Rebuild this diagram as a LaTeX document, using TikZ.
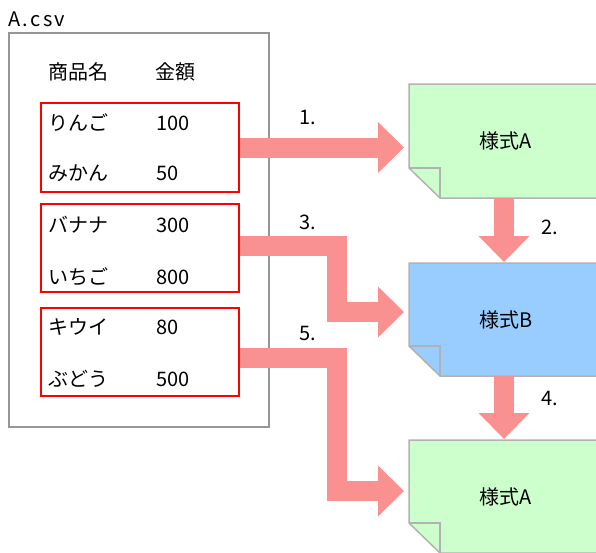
\documentclass[tikz,border=0pt]{standalone}
\usepackage{fontspec}
\setmainfont{Noto Sans CJK JP}
\usetikzlibrary{arrows.meta,backgrounds}
\definecolor{pinkarrow}{RGB}{250,145,145}
\definecolor{docgreen}{RGB}{204,255,204}
\definecolor{docblue}{RGB}{153,204,255}
\definecolor{docborder}{RGB}{178,178,178}
\definecolor{csvborder}{RGB}{150,150,150}
\tikzset{
  csvbox/.style={draw=csvborder, line width=1.5pt, minimum width=260pt, minimum height=394pt, inner sep=0pt},
  groupbox/.style={draw=red, line width=2.5pt, minimum width=198pt, minimum height=88pt, inner sep=0pt},
  cell/.style={anchor=west, inner sep=0pt},
  docnode/.style={minimum width=194pt, minimum height=113pt, inner sep=0pt, outer sep=0pt},
  docline/.style={draw=docborder, line width=1.5pt, line join=miter},
  fat/.style={draw=pinkarrow, line width=20pt, line join=miter,
    -{Triangle[width=51pt,length=26pt,line width=0pt]}},
  steplabel/.style={inner sep=0pt},
}
\begin{document}
\begin{tikzpicture}[x=1pt,y=-1pt,font=\fontsize{20}{23}\selectfont]
\useasboundingbox (0,0) rectangle (596,552);
\clip (0,0) rectangle (596,552);

% CSV box
\node[csvbox] (csv) at (139,230) {};
\node[cell] (lbl) at (8,19) {\addfontfeatures{LetterSpace=12}A.csv};

\node[cell] (h1) at (48,72) {商品名};
\node[cell] (h2) at (155,72) {金額};

% groups
\node[groupbox, minimum height=89pt] (rb1) at (140,147.5) {};
\node[groupbox] (rb2) at (140,248) {};
\node[groupbox] (rb3) at (140,352) {};

\node[cell] (r1) at (48,123) {りんご};
\node[cell] (v1) at (156,123) {100};
\node[cell] (r2) at (48,173) {みかん};
\node[cell] (v2) at (156,173) {50};
\node[cell] (r3) at (48,225) {バナナ};
\node[cell] (v3) at (156,225) {300};
\node[cell] (r4) at (48,277) {いちご};
\node[cell] (v4) at (156,277) {800};
\node[cell] (r5) at (48,327) {キウイ};
\node[cell] (v5) at (156,327) {80};
\node[cell] (r6) at (48,379) {ぶどう};
\node[cell] (v6) at (156,379) {500};

% documents
\node[docnode, minimum height=114pt] (d1) at (506,141) {様式A};
\node[docnode] (d2) at (506,319.5) {様式B};
\node[docnode] (d3) at (506,496.5) {様式A};

\begin{scope}[on background layer]
\foreach \d/\c in {d1/docgreen,d2/docblue,d3/docgreen}{
  \filldraw[docline, fill=\c] (\d.north west) -- (\d.north east) -- (\d.south east)
     -- ([xshift=31pt]\d.south west) -- ([yshift=30pt]\d.south west) -- cycle;
  \draw[docline] ([yshift=30pt]\d.south west) -- ([xshift=31pt,yshift=30pt]\d.south west)
     -- ([xshift=31pt]\d.south west);
}
\end{scope}

% arrows
\draw[fat, shorten >=5pt] (rb1.east) -- (rb1.east -| d1.west);
\draw[fat, shorten >=1pt] ([xshift=-2pt]d1.south) -- ([xshift=-2pt]d2.north);
\draw[fat, shorten >=1pt] ([xshift=-2pt]d2.south) -- ([xshift=-2pt]d3.north);
\draw[fat, shorten >=5pt] ([yshift=2pt]rb2.east) -- ++(97,0) |- ([yshift=7.5pt]d2.west);
\draw[fat, shorten >=5pt] ([yshift=-6pt]rb3.east) -- ++(97,0) |- ([yshift=5.5pt]d3.west);

% step labels
\node[steplabel] (s1) at (308,117) {1.};
\node[steplabel] (s2) at (550,227) {2.};
\node[steplabel] (s3) at (308,222) {3.};
\node[steplabel] (s4) at (550,398) {4.};
\node[steplabel] (s5) at (308,333) {5.};
\end{tikzpicture}
\end{document}
